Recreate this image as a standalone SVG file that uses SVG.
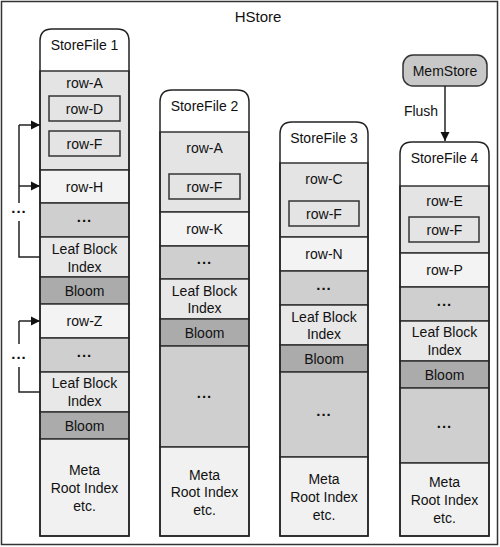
<svg xmlns="http://www.w3.org/2000/svg" width="500" height="547" viewBox="0 0 500 547">
<defs>
<marker id="ah" markerWidth="10" markerHeight="10" refX="9" refY="5" orient="auto" markerUnits="userSpaceOnUse">
<path d="M0,0.5 L9,5 L0,9.5 Z" fill="#111"/>
</marker>
<style>
text{font-family:"Liberation Sans",Arial,sans-serif;font-size:14px;fill:#111;text-anchor:middle}
.dots{font-weight:bold;font-size:15px;letter-spacing:1px}
.sec{stroke:#333;stroke-width:1.5}
.a{fill:#e4e4e4}.w{fill:#f3f3f3}.g{fill:#cfcfcf}.l{fill:#e8e8e8}.b{fill:#ababab}.m{fill:#f1f1f1}
.box{fill:#e4e4e4;stroke:#333;stroke-width:1.5}
.outline{fill:none;stroke:#222;stroke-width:1.5}
.con{fill:none;stroke:#222;stroke-width:1.5}
</style>
</defs>
<rect x="1.5" y="1.5" width="496" height="543" fill="#fff" stroke="#333" stroke-width="1.5"/>
<text x="258" y="22" style="font-size:15px">HStore</text>

<g id="storefile1">
<path d="M40,536 V41 Q40,29 52,29 H117 Q129,29 129,41 V536 Z" fill="#fff"/>
<rect class="sec a" x="40" y="71" width="89" height="99"/>
<rect class="sec w" x="40" y="170" width="89" height="33"/>
<rect class="sec g" x="40" y="203" width="89" height="34"/>
<rect class="sec l" x="40" y="237" width="89" height="40"/>
<rect class="sec b" x="40" y="277" width="89" height="27"/>
<rect class="sec w" x="40" y="304" width="89" height="34"/>
<rect class="sec g" x="40" y="338" width="89" height="34"/>
<rect class="sec l" x="40" y="372" width="89" height="40"/>
<rect class="sec b" x="40" y="412" width="89" height="27"/>
<rect class="sec m" x="40" y="439" width="89" height="97"/>
<path class="outline" d="M40,536 V41 Q40,29 52,29 H117 Q129,29 129,41 V536 Z"/>
<text x="84.5" y="50">StoreFile 1</text>
<text x="84.5" y="88">row-A</text>
<rect class="box" x="49" y="96" width="71" height="25"/>
<text x="84.5" y="113.5">row-D</text>
<rect class="box" x="49" y="131" width="71" height="25"/>
<text x="84.5" y="148.5">row-F</text>
<text x="84.5" y="191.5">row-H</text>
<text class="dots" x="84.5" y="221.5">...</text>
<text x="84.5" y="254">Leaf Block</text>
<text x="84.5" y="272">Index</text>
<text x="84.5" y="295.5">Bloom</text>
<text x="84.5" y="326">row-Z</text>
<text class="dots" x="84.5" y="356.5">...</text>
<text x="84.5" y="388">Leaf Block</text>
<text x="84.5" y="406">Index</text>
<text x="84.5" y="430.5">Bloom</text>
<text x="84.5" y="475">Meta</text>
<text x="84.5" y="493">Root Index</text>
<text x="84.5" y="511">etc.</text>
</g>

<g id="storefile2">
<path d="M160,536 V102 Q160,90 172,90 H237 Q249,90 249,102 V536 Z" fill="#fff"/>
<rect class="sec a" x="160" y="132" width="89" height="80"/>
<rect class="sec w" x="160" y="212" width="89" height="34"/>
<rect class="sec g" x="160" y="246" width="89" height="33"/>
<rect class="sec l" x="160" y="279" width="89" height="40"/>
<rect class="sec b" x="160" y="319" width="89" height="27"/>
<rect class="sec g" x="160" y="346" width="89" height="101"/>
<rect class="sec m" x="160" y="447" width="89" height="89"/>
<path class="outline" d="M160,536 V102 Q160,90 172,90 H237 Q249,90 249,102 V536 Z"/>
<text x="204.5" y="111">StoreFile 2</text>
<text x="204.5" y="153">row-A</text>
<rect class="box" x="169" y="174" width="71" height="25"/>
<text x="204.5" y="191.5">row-F</text>
<text x="204.5" y="234">row-K</text>
<text class="dots" x="204.5" y="264">...</text>
<text x="204.5" y="296">Leaf Block</text>
<text x="204.5" y="313">Index</text>
<text x="204.5" y="337.5">Bloom</text>
<text class="dots" x="204.5" y="398">...</text>
<text x="204.5" y="480">Meta</text>
<text x="204.5" y="497">Root Index</text>
<text x="204.5" y="515">etc.</text>
</g>

<g id="storefile3">
<path d="M280,536 V134 Q280,122 292,122 H356 Q368,122 368,134 V536 Z" fill="#fff"/>
<rect class="sec a" x="280" y="163" width="88" height="74"/>
<rect class="sec w" x="280" y="237" width="88" height="34"/>
<rect class="sec g" x="280" y="271" width="88" height="34"/>
<rect class="sec l" x="280" y="305" width="88" height="40"/>
<rect class="sec b" x="280" y="345" width="88" height="27"/>
<rect class="sec g" x="280" y="372" width="88" height="85"/>
<rect class="sec m" x="280" y="457" width="88" height="79"/>
<path class="outline" d="M280,536 V134 Q280,122 292,122 H356 Q368,122 368,134 V536 Z"/>
<text x="324" y="143">StoreFile 3</text>
<text x="324" y="184">row-C</text>
<rect class="box" x="289" y="201" width="70" height="25"/>
<text x="324" y="218.5">row-F</text>
<text x="324" y="259">row-N</text>
<text class="dots" x="324" y="289.5">...</text>
<text x="324" y="322">Leaf Block</text>
<text x="324" y="339">Index</text>
<text x="324" y="364">Bloom</text>
<text class="dots" x="324" y="415.5">...</text>
<text x="324" y="484">Meta</text>
<text x="324" y="502">Root Index</text>
<text x="324" y="520">etc.</text>
</g>

<g id="storefile4">
<path d="M400,536 V154 Q400,142 412,142 H477 Q489,142 489,154 V536 Z" fill="#fff"/>
<rect class="sec a" x="400" y="186" width="89" height="67"/>
<rect class="sec w" x="400" y="253" width="89" height="34"/>
<rect class="sec g" x="400" y="287" width="89" height="34"/>
<rect class="sec l" x="400" y="321" width="89" height="40"/>
<rect class="sec b" x="400" y="361" width="89" height="27"/>
<rect class="sec g" x="400" y="388" width="89" height="75"/>
<rect class="sec m" x="400" y="463" width="89" height="73"/>
<path class="outline" d="M400,536 V154 Q400,142 412,142 H477 Q489,142 489,154 V536 Z"/>
<text x="444.5" y="163">StoreFile 4</text>
<text x="444.5" y="206">row-E</text>
<rect class="box" x="409" y="217" width="70" height="25"/>
<text x="444.5" y="234.5">row-F</text>
<text x="444.5" y="275">row-P</text>
<text class="dots" x="444.5" y="305.5">...</text>
<text x="444.5" y="337">Leaf Block</text>
<text x="444.5" y="355">Index</text>
<text x="444.5" y="380">Bloom</text>
<text class="dots" x="444.5" y="427.5">...</text>
<text x="444.5" y="487">Meta</text>
<text x="444.5" y="505">Root Index</text>
<text x="444.5" y="523">etc.</text>
</g>

<g id="memstore">
<rect x="403" y="55" width="84" height="31" rx="10" fill="#c8c8c8" stroke="#333" stroke-width="1.5"/>
<text x="445" y="76">MemStore</text>
</g>

<g id="connectors">
<path class="con" d="M445,86 V141" marker-end="url(#ah)"/>
<text x="421" y="116">Flush</text>
<path class="con" d="M19,125 V203"/>
<path class="con" d="M19,125 H40" marker-end="url(#ah)"/>
<path class="con" d="M19,186 H40" marker-end="url(#ah)"/>
<text class="dots" x="19" y="213">...</text>
<path class="con" d="M19,221 V257 H40"/>
<path class="con" d="M19,321 V344"/>
<path class="con" d="M19,321 H40" marker-end="url(#ah)"/>
<text class="dots" x="19" y="359">...</text>
<path class="con" d="M19,367 V392 H40"/>
</g>
</svg>
